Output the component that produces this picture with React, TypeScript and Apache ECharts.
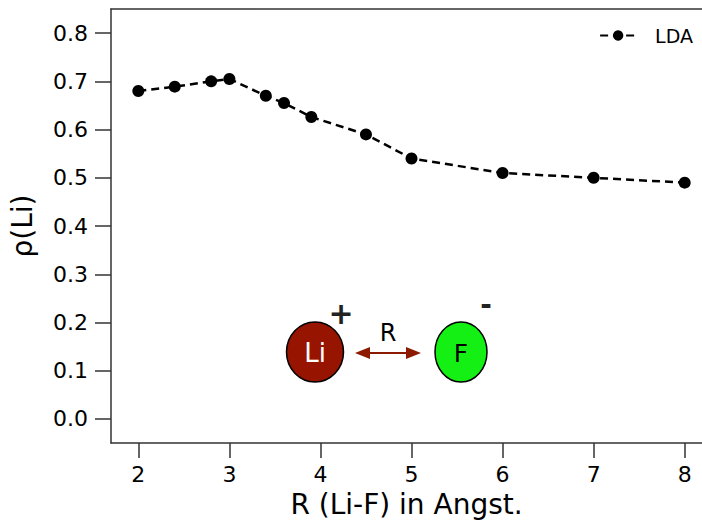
import React, { useEffect, useRef } from "react";
import * as echarts from "echarts";

const rValues = [2.0, 2.4, 2.8, 3.0, 3.4, 3.6, 3.9, 4.5, 5.0, 6.0, 7.0, 8.0];
const rhoLDA = [0.68, 0.689, 0.7, 0.705, 0.67, 0.655, 0.626, 0.59, 0.54, 0.51, 0.5, 0.49];
const xTicks = [2, 3, 4, 5, 6, 7, 8];
const yTicks = [0, 0.1, 0.2, 0.3, 0.4, 0.5, 0.6, 0.7, 0.8];
const seriesName = "LDA";

const FONT = "DejaVu Sans";
const X_MIN = 1.7;
const X_MAX = 8.19;

export default function App() {
  const ref = useRef<HTMLDivElement>(null);
  useEffect(() => {
    if (!ref.current) return;
    const chart = echarts.init(ref.current, null, { renderer: "svg" });
    const axisColor = "#333";
    chart.setOption({
      animation: false,
      backgroundColor: "#fff",
      grid: {
        left: 108,
        top: 9,
        right: 0,
        bottom: 77,
        show: false,
      },
      legend: {
        data: [seriesName],
        right: 4,
        top: 21,
        itemWidth: 36,
        itemHeight: 13,
        textStyle: { fontFamily: FONT, fontSize: 19, color: "#000", padding: [0, 0, 0, 14] },
      },
      xAxis: [
        {
          type: "value",
          min: X_MIN,
          max: X_MAX,
          name: "R (Li-F) in Angst.",
          nameLocation: "middle",
          nameGap: 46,
          nameTextStyle: { fontFamily: FONT, fontSize: 28, color: "#000" },
          axisLine: { show: true, onZero: false, lineStyle: { color: axisColor, width: 1.5 } },
          axisTick: { show: true, length: 15, customValues: xTicks, lineStyle: { color: axisColor, width: 1.5 } },
          axisLabel: {
            customValues: xTicks,
            margin: 20,
            fontFamily: FONT,
            fontSize: 22,
            color: "#000",
            formatter: (v: number) => String(v),
          },
          splitLine: { show: false },
        },
        {
          type: "value",
          position: "top",
          min: X_MIN,
          max: X_MAX,
          axisLine: { show: true, onZero: false, lineStyle: { color: axisColor, width: 1.5 } },
          axisTick: { show: false },
          axisLabel: { show: false },
          splitLine: { show: false },
        },
      ],
      yAxis: {
        type: "value",
        min: -0.05,
        max: 0.85,
        name: "ρ(Li)",
        nameLocation: "middle",
        nameGap: 75,
        nameTextStyle: { fontFamily: FONT, fontSize: 28, color: "#000" },
        axisLine: { show: true, onZero: false, lineStyle: { color: axisColor, width: 1.5 } },
        axisTick: { show: true, length: 16, customValues: yTicks, lineStyle: { color: axisColor, width: 1.5 } },
        axisLabel: {
          customValues: yTicks,
          margin: 23,
          fontFamily: FONT,
          fontSize: 22,
          color: "#000",
          formatter: (v: number) => v.toFixed(1),
        },
        splitLine: { show: false },
      },
      series: [
        {
          name: seriesName,
          type: "line",
          xAxisIndex: 0,
          data: rValues.map((r, i) => [r, rhoLDA[i]]),
          symbol: "circle",
          symbolSize: 12,
          itemStyle: { color: "#000" },
          lineStyle: { color: "#000", width: 2.5, type: [8, 5] },
        },
      ],
      graphic: [
        {
          type: "ellipse",
          shape: { cx: 315, cy: 352, rx: 28.5, ry: 30 },
          style: { fill: "#971500", stroke: "#000", lineWidth: 1.5 },
        },
        {
          type: "text",
          x: 315,
          y: 353,
          style: { text: "Li", fill: "#fff", font: `26px ${FONT}`, align: "center", verticalAlign: "middle" },
        },
        {
          type: "ellipse",
          shape: { cx: 461, cy: 352, rx: 26, ry: 30 },
          style: { fill: "#14f014", stroke: "#000", lineWidth: 1.5 },
        },
        {
          type: "text",
          x: 461,
          y: 353,
          style: { text: "F", fill: "#000", font: `25px ${FONT}`, align: "center", verticalAlign: "middle" },
        },
        {
          type: "line",
          shape: { x1: 364, y1: 353, x2: 412, y2: 353 },
          style: { stroke: "#8b1a00", lineWidth: 2 },
        },
        {
          type: "polygon",
          shape: { points: [[355, 353], [370, 347], [370, 359]] },
          style: { fill: "#8b1a00" },
        },
        {
          type: "polygon",
          shape: { points: [[421, 353], [406, 347], [406, 359]] },
          style: { fill: "#8b1a00" },
        },
        {
          type: "text",
          x: 388,
          y: 333,
          style: { text: "R", fill: "#000", font: `24px ${FONT}`, align: "center", verticalAlign: "middle" },
        },
        {
          type: "text",
          x: 341,
          y: 313,
          style: { text: "+", fill: "#222", font: `bold 30px ${FONT}`, align: "center", verticalAlign: "middle" },
        },
        {
          type: "text",
          x: 486,
          y: 304,
          style: { text: "-", fill: "#222", font: `bold 28px ${FONT}`, align: "center", verticalAlign: "middle" },
        },
      ],
    });
    return () => chart.dispose();
  }, []);
  return <div ref={ref} style={{ width: 702, height: 523, position: "absolute", left: 0, top: 0 }} />;
}
